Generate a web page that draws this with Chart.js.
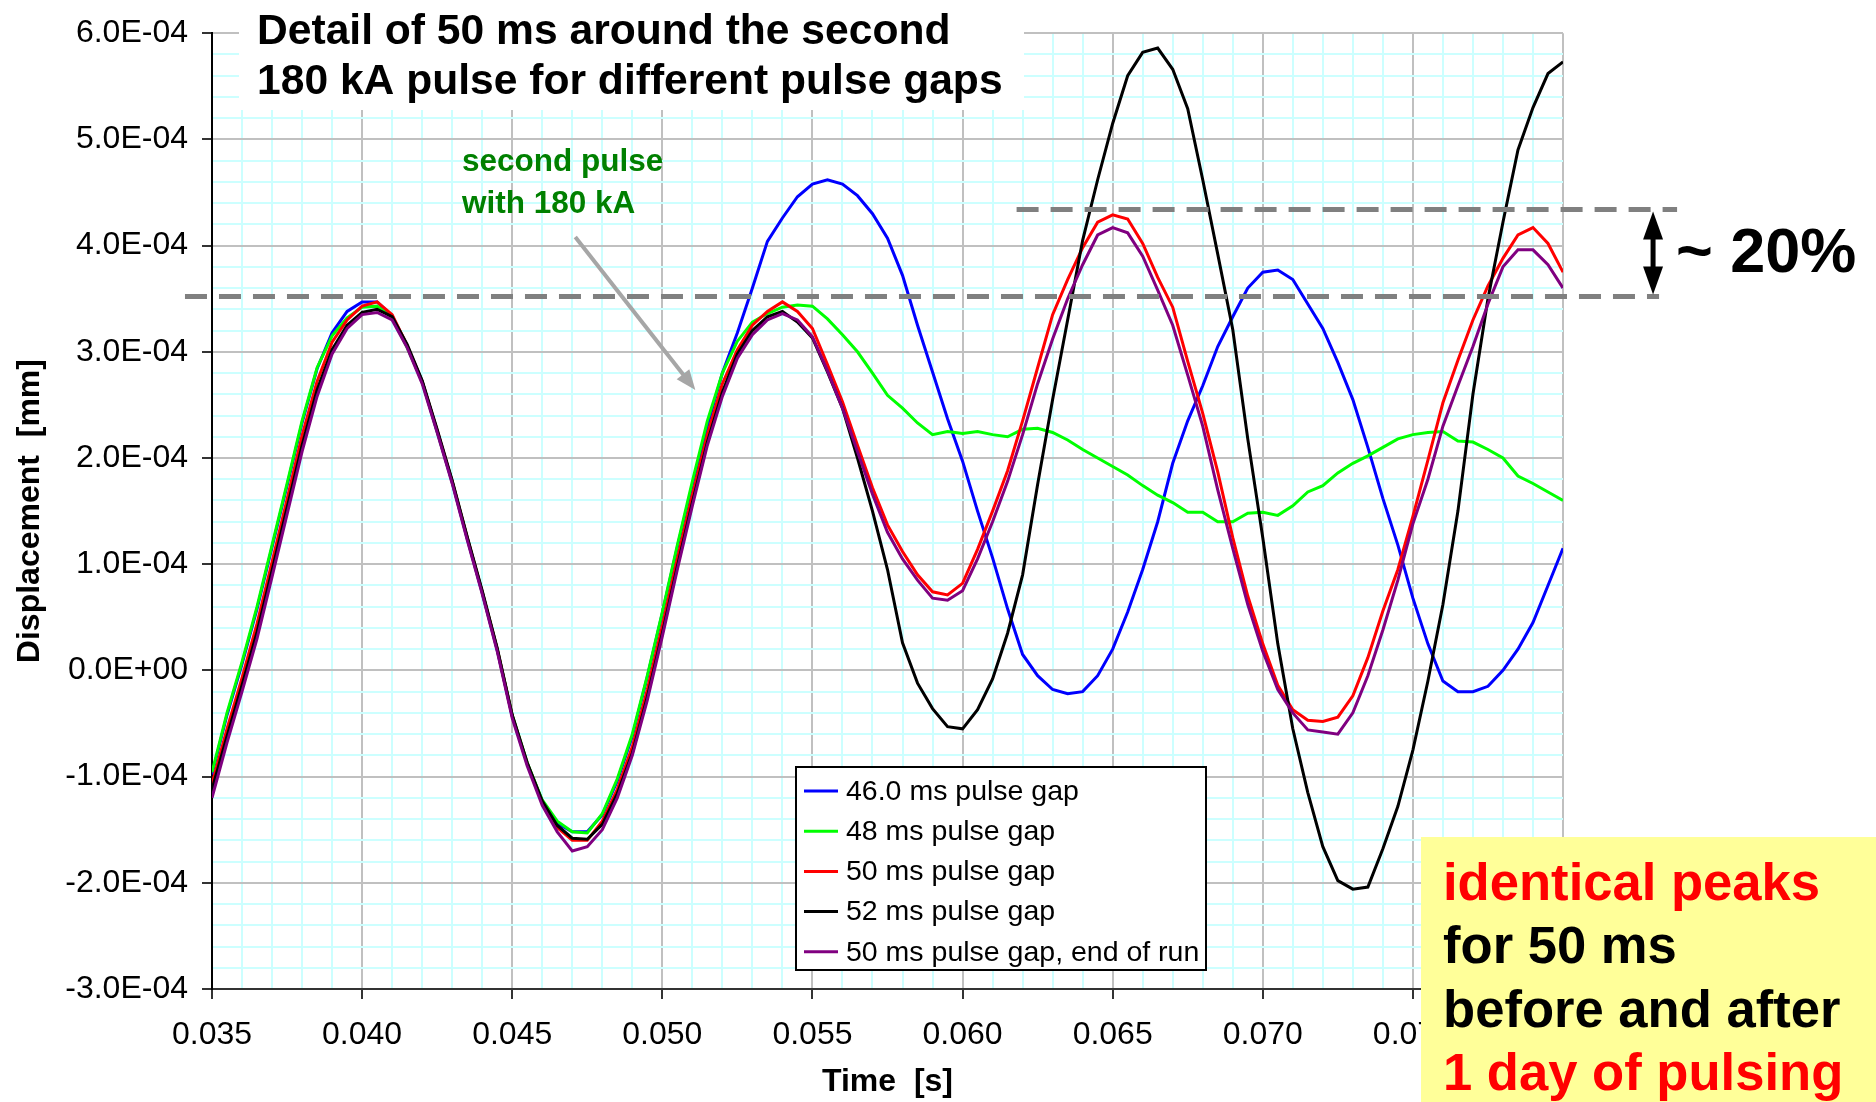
<!DOCTYPE html>
<html>
<head>
<meta charset="utf-8">
<title>Displacement - second 180 kA pulse</title>
<script src="https://cdn.jsdelivr.net/npm/chart.js@4.4.1/dist/chart.umd.min.js"></script>
<style>
  html, body { margin: 0; padding: 0; background: #fff; }
  canvas { display: block; }
</style>
</head>
<body>
<canvas id="displacementChart" width="1876" height="1102"></canvas>
<script>
// time in seconds, 0.5 ms sampling
const timeS = [
    0.0350, 0.0355, 0.0360, 0.0365, 0.0370, 0.0375, 0.0380, 0.0385, 0.0390, 0.0395,
    0.0400, 0.0405, 0.0410, 0.0415, 0.0420, 0.0425, 0.0430, 0.0435, 0.0440, 0.0445,
    0.0450, 0.0455, 0.0460, 0.0465, 0.0470, 0.0475, 0.0480, 0.0485, 0.0490, 0.0495,
    0.0500, 0.0505, 0.0510, 0.0515, 0.0520, 0.0525, 0.0530, 0.0535, 0.0540, 0.0545,
    0.0550, 0.0555, 0.0560, 0.0565, 0.0570, 0.0575, 0.0580, 0.0585, 0.0590, 0.0595,
    0.0600, 0.0605, 0.0610, 0.0615, 0.0620, 0.0625, 0.0630, 0.0635, 0.0640, 0.0645,
    0.0650, 0.0655, 0.0660, 0.0665, 0.0670, 0.0675, 0.0680, 0.0685, 0.0690, 0.0695,
    0.0700, 0.0705, 0.0710, 0.0715, 0.0720, 0.0725, 0.0730, 0.0735, 0.0740, 0.0745,
    0.0750, 0.0755, 0.0760, 0.0765, 0.0770, 0.0775, 0.0780, 0.0785, 0.0790, 0.0795,
    0.0800
];

// displacement in units of 1E-04 mm
const gap46 = [
    -0.98, -0.42, 0.06, 0.58, 1.16, 1.74, 2.33, 2.84, 3.18, 3.38,
    3.47, 3.47, 3.34, 3.05, 2.72, 2.25, 1.77, 1.24, 0.73, 0.19,
    -0.43, -0.88, -1.23, -1.44, -1.52, -1.52, -1.36, -1.04, -0.62, -0.06,
    0.54, 1.16, 1.75, 2.30, 2.80, 3.18, 3.60, 4.04, 4.26, 4.46,
    4.58, 4.62, 4.58, 4.47, 4.30, 4.07, 3.72, 3.25, 2.81, 2.37,
    1.97, 1.50, 1.06, 0.58, 0.15, -0.05, -0.18, -0.22, -0.20, -0.05,
    0.20, 0.55, 0.95, 1.40, 1.95, 2.35, 2.68, 3.05, 3.33, 3.60,
    3.75, 3.77, 3.68, 3.45, 3.22, 2.90, 2.55, 2.10, 1.62, 1.18,
    0.68, 0.25, -0.10, -0.20, -0.20, -0.15, 0.00, 0.20, 0.45, 0.80,
    1.15
];
const gap48 = [
    -0.96, -0.40, 0.08, 0.60, 1.18, 1.76, 2.35, 2.85, 3.15, 3.32,
    3.42, 3.43, 3.32, 3.04, 2.72, 2.25, 1.78, 1.25, 0.74, 0.20,
    -0.42, -0.87, -1.22, -1.42, -1.52, -1.53, -1.35, -1.02, -0.60, -0.05,
    0.55, 1.18, 1.78, 2.35, 2.80, 3.10, 3.28, 3.36, 3.42, 3.44,
    3.43, 3.31, 3.16, 3.00, 2.80, 2.59, 2.47, 2.33, 2.22, 2.25,
    2.23, 2.25, 2.22, 2.20, 2.27, 2.28, 2.24, 2.17, 2.08, 2.00,
    1.92, 1.84, 1.74, 1.65, 1.58, 1.49, 1.49, 1.40, 1.40, 1.48,
    1.49, 1.46, 1.55, 1.68, 1.74, 1.86, 1.95, 2.02, 2.10, 2.18,
    2.22, 2.24, 2.25, 2.16, 2.15, 2.08, 2.00, 1.83, 1.76, 1.68,
    1.60
];
const gap50 = [
    -1.07, -0.55, -0.07, 0.44, 1.02, 1.61, 2.21, 2.72, 3.09, 3.30,
    3.43, 3.47, 3.35, 3.06, 2.72, 2.26, 1.78, 1.25, 0.74, 0.20,
    -0.43, -0.88, -1.24, -1.48, -1.60, -1.60, -1.42, -1.12, -0.72, -0.18,
    0.42, 1.05, 1.65, 2.22, 2.70, 3.02, 3.25, 3.38, 3.47, 3.38,
    3.22, 2.88, 2.53, 2.12, 1.72, 1.37, 1.12, 0.90, 0.74, 0.71,
    0.82, 1.14, 1.50, 1.88, 2.35, 2.85, 3.35, 3.68, 3.98, 4.22,
    4.29, 4.25, 4.02, 3.70, 3.42, 2.91, 2.42, 1.87, 1.25, 0.70,
    0.25, -0.14, -0.37, -0.47, -0.48, -0.44, -0.24, 0.12, 0.56, 0.95,
    1.45, 1.98, 2.52, 2.92, 3.30, 3.62, 3.88, 4.10, 4.17, 4.02,
    3.75
];
const gap52 = [
    -1.12, -0.62, -0.14, 0.36, 0.94, 1.53, 2.12, 2.64, 3.02, 3.25,
    3.37, 3.40, 3.33, 3.07, 2.73, 2.27, 1.79, 1.26, 0.75, 0.21,
    -0.42, -0.87, -1.23, -1.46, -1.58, -1.59, -1.45, -1.16, -0.78, -0.25,
    0.35, 0.98, 1.58, 2.15, 2.62, 2.98, 3.20, 3.33, 3.38, 3.28,
    3.13, 2.81, 2.47, 2.00, 1.50, 0.95, 0.26, -0.12, -0.36, -0.53,
    -0.55, -0.37, -0.08, 0.35, 0.90, 1.75, 2.55, 3.30, 4.05, 4.62,
    5.15, 5.60, 5.82, 5.86, 5.66, 5.29, 4.62, 3.92, 3.21, 2.18,
    1.25, 0.25, -0.55, -1.15, -1.66, -1.98, -2.06, -2.04, -1.68, -1.28,
    -0.75, -0.10, 0.62, 1.50, 2.60, 3.50, 4.22, 4.90, 5.30, 5.62,
    5.73
];
const gap50EndOfRun = [
    -1.20, -0.68, -0.20, 0.30, 0.88, 1.47, 2.06, 2.58, 2.98, 3.22,
    3.35, 3.37, 3.30, 3.04, 2.70, 2.24, 1.76, 1.23, 0.72, 0.18,
    -0.45, -0.90, -1.27, -1.52, -1.70, -1.66, -1.50, -1.20, -0.80, -0.28,
    0.32, 0.95, 1.55, 2.12, 2.58, 2.94, 3.16, 3.30, 3.36, 3.30,
    3.14, 2.82, 2.47, 2.06, 1.66, 1.30, 1.05, 0.85, 0.68, 0.66,
    0.75, 1.05, 1.40, 1.78, 2.22, 2.70, 3.12, 3.50, 3.82, 4.10,
    4.17, 4.12, 3.90, 3.58, 3.25, 2.78, 2.30, 1.70, 1.15, 0.62,
    0.18, -0.18, -0.40, -0.56, -0.58, -0.60, -0.40, -0.05, 0.38, 0.85,
    1.38, 1.80, 2.30, 2.68, 3.05, 3.45, 3.80, 3.96, 3.96, 3.82,
    3.60
];

const seriesLabels = ['46.0 ms pulse gap', '48 ms pulse gap', '50 ms pulse gap', '52 ms pulse gap', '50 ms pulse gap, end of run'];
const seriesColors = ['#0000ff', '#00ff00', '#ff0000', '#000000', '#800080'];
const seriesValues = [gap46, gap48, gap50, gap52, gap50EndOfRun];

const xTickLabels = ['0.035', '0.040', '0.045', '0.050', '0.055', '0.060', '0.065', '0.070', '0.075', '0.080'];
const yTickLabels = ['-3.0E-04', '-2.0E-04', '-1.0E-04', '0.0E+00', '1.0E-04', '2.0E-04', '3.0E-04', '4.0E-04', '5.0E-04', '6.0E-04'];

// reference levels for the peak comparison (1E-04 mm)
const peakLevelLow = 3.52;
const peakLevelHigh = 4.34;

const FONT = "'Liberation Sans', Arial, sans-serif";

document.addEventListener('DOMContentLoaded', function () {
    renderDisplacementChart();
});

function majorIndex(value, start, step) {
    const k = (value - start) / step;
    return Math.abs(k - Math.round(k)) < 1e-6 ? Math.round(k) : -1;
}

function arrowHead(ctx, tipX, tipY, angle, len, half) {
    ctx.save();
    ctx.translate(tipX, tipY);
    ctx.rotate(angle);
    ctx.beginPath();
    ctx.moveTo(0, 0);
    ctx.lineTo(-len, -half);
    ctx.lineTo(-len, half);
    ctx.closePath();
    ctx.fill();
    ctx.restore();
}

const overlay = {
    id: 'overlay',
    afterDraw(chart) {
        const { ctx } = chart;
        const x = chart.scales.x;
        const y = chart.scales.y;
        ctx.save();

        // dashed peak levels
        ctx.strokeStyle = '#808080';
        ctx.lineWidth = 5;
        ctx.setLineDash([22, 12]);
        ctx.beginPath();
        ctx.moveTo(x.getPixelForValue(0.0341), y.getPixelForValue(peakLevelLow));
        ctx.lineTo(x.getPixelForValue(0.0832), y.getPixelForValue(peakLevelLow));
        ctx.moveTo(x.getPixelForValue(0.0618), y.getPixelForValue(peakLevelHigh));
        ctx.lineTo(x.getPixelForValue(0.0838), y.getPixelForValue(peakLevelHigh));
        ctx.stroke();
        ctx.setLineDash([]);

        // double arrow between the two levels
        const ax = x.getPixelForValue(0.0830);
        const aTop = y.getPixelForValue(peakLevelHigh) + 2;
        const aBot = y.getPixelForValue(peakLevelLow) - 2;
        ctx.strokeStyle = '#000';
        ctx.fillStyle = '#000';
        ctx.lineWidth = 5;
        ctx.beginPath();
        ctx.moveTo(ax, aTop + 20);
        ctx.lineTo(ax, aBot - 20);
        ctx.stroke();
        arrowHead(ctx, ax, aTop, -Math.PI / 2, 28, 10);
        arrowHead(ctx, ax, aBot, Math.PI / 2, 28, 10);

        ctx.font = 'bold 63px ' + FONT;
        ctx.textBaseline = 'alphabetic';
        ctx.textAlign = 'left';
        ctx.fillText('~ 20%', 1676, 272);

        // pointer to the second pulse
        const p0x = x.getPixelForValue(0.0471), p0y = y.getPixelForValue(4.08);
        const p1x = x.getPixelForValue(0.0511), p1y = y.getPixelForValue(2.64);
        const ang = Math.atan2(p1y - p0y, p1x - p0x);
        ctx.strokeStyle = '#a6a6a6';
        ctx.fillStyle = '#a6a6a6';
        ctx.lineWidth = 4;
        ctx.beginPath();
        ctx.moveTo(p0x, p0y);
        ctx.lineTo(p1x - 14 * Math.cos(ang), p1y - 14 * Math.sin(ang));
        ctx.stroke();
        arrowHead(ctx, p1x, p1y, ang, 20, 8);

        ctx.fillStyle = '#008000';
        ctx.font = 'bold 31.5px ' + FONT;
        ctx.fillText('second pulse', 462, 171);
        ctx.fillText('with 180 kA', 462, 213);

        // heading box
        ctx.fillStyle = '#fff';
        ctx.fillRect(239, 0, 785, 110);
        ctx.fillStyle = '#000';
        ctx.font = 'bold 42.6px ' + FONT;
        ctx.fillText('Detail of 50 ms around the second', 257, 44);
        ctx.fillText('180 kA pulse for different pulse gaps', 257, 94);

        // legend
        const lx = 796, ly = 767, lw = 410, lh = 203;
        ctx.fillStyle = '#fff';
        ctx.fillRect(lx, ly, lw, lh);
        ctx.strokeStyle = '#000';
        ctx.lineWidth = 2;
        ctx.strokeRect(lx, ly, lw, lh);
        ctx.font = '28.5px ' + FONT;
        ctx.textBaseline = 'middle';
        chart.data.datasets.forEach((ds, i) => {
            const ry = ly + 24 + i * 40.2;
            ctx.strokeStyle = ds.borderColor;
            ctx.lineWidth = 3;
            ctx.beginPath();
            ctx.moveTo(lx + 8, ry);
            ctx.lineTo(lx + 42, ry);
            ctx.stroke();
            ctx.fillStyle = '#000';
            ctx.fillText(ds.label, lx + 50, ry + 1);
        });

        // note box
        ctx.fillStyle = '#ffff99';
        ctx.fillRect(1421, 837, 455, 265);
        ctx.font = 'bold 52.6px ' + FONT;
        ctx.textBaseline = 'alphabetic';
        ctx.fillStyle = '#ff0000';
        ctx.fillText('identical peaks', 1443, 900);
        ctx.fillStyle = '#000';
        ctx.fillText('for 50 ms', 1443, 963);
        ctx.fillText('before and after', 1443, 1027);
        ctx.fillStyle = '#ff0000';
        ctx.fillText('1 day of pulsing', 1443, 1090);

        ctx.restore();
    }
};

function renderDisplacementChart() {
    const ctx = document.getElementById('displacementChart').getContext('2d');

    const datasets = seriesValues.map((vals, i) => ({
        label: seriesLabels[i],
        data: vals.map((v, j) => ({ x: timeS[j], y: v })),
        borderColor: seriesColors[i],
        backgroundColor: seriesColors[i],
        borderWidth: 3,
        pointRadius: 0,
        tension: 0,
        fill: false,
        order: seriesValues.length - i
    }));

    const tickFont = { family: FONT, size: 32 };
    const titleFont = { family: FONT, size: 32, weight: 'bold' };

    new Chart(ctx, {
        type: 'line',
        data: { datasets },
        options: {
            responsive: false,
            animation: false,
            devicePixelRatio: 1,
            layout: { padding: { top: 32, right: 313, left: 0, bottom: 0 } },
            plugins: {
                legend: { display: false },
                tooltip: { enabled: false }
            },
            scales: {
                x: {
                    type: 'linear',
                    min: 0.035,
                    max: 0.08,
                    afterFit: (s) => { s.height = 113; },
                    ticks: {
                        stepSize: 0.001,
                        autoSkip: false,
                        maxRotation: 0,
                        padding: 17,
                        color: '#000',
                        font: tickFont,
                        callback: (v) => {
                            const k = majorIndex(v, 0.035, 0.005);
                            return k >= 0 ? xTickLabels[k] : '';
                        }
                    },
                    grid: {
                        lineWidth: 2,
                        tickLength: 10,
                        tickWidth: 2,
                        color: (c) => (c.tick && majorIndex(c.tick.value, 0.035, 0.005) >= 0) ? '#c0c0c0' : '#ccffff',
                        tickColor: (c) => (c.tick && majorIndex(c.tick.value, 0.035, 0.005) >= 0) ? '#333' : 'rgba(0,0,0,0)'
                    },
                    border: { color: '#333', width: 2 },
                    title: { display: true, text: 'Time  [s]', color: '#000', font: titleFont, padding: { top: 0, bottom: 1 } }
                },
                y: {
                    min: -3,
                    max: 6,
                    afterFit: (s) => { s.width = 212; },
                    ticks: {
                        stepSize: 0.2,
                        autoSkip: false,
                        padding: 14,
                        color: '#000',
                        font: tickFont,
                        callback: (v) => {
                            const k = majorIndex(v, -3, 1);
                            return k >= 0 ? yTickLabels[k] : '';
                        }
                    },
                    grid: {
                        lineWidth: 2,
                        tickLength: 10,
                        tickWidth: 2,
                        color: (c) => (c.tick && majorIndex(c.tick.value, -3, 1) >= 0) ? '#c0c0c0' : '#ccffff',
                        tickColor: (c) => (c.tick && majorIndex(c.tick.value, -3, 1) >= 0) ? '#333' : 'rgba(0,0,0,0)'
                    },
                    border: { color: '#000', width: 2 },
                    title: { display: true, text: 'Displacement  [mm]', color: '#000', font: titleFont, padding: { top: 11, bottom: 0 } }
                }
            }
        },
        plugins: [overlay]
    });
}
</script>
</body>
</html>
